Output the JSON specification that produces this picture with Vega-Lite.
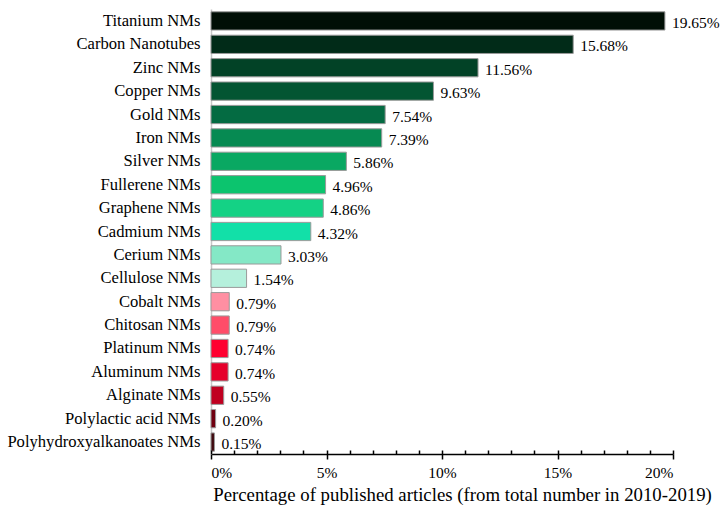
{
  "$schema": "https://vega.github.io/schema/vega-lite/v6.json",
  "autosize": "none",
  "width": 462,
  "height": 445,
  "padding": {"left": 211, "top": 9, "right": 51, "bottom": 56},
  "background": "white",
  "config": {"view": {"stroke": null}, "font": "Liberation Serif"},
  "data": {"values": [
    {"name": "Titanium NMs", "pct": 19.65, "label": "19.65%"},
    {"name": "Carbon Nanotubes", "pct": 15.68, "label": "15.68%"},
    {"name": "Zinc NMs", "pct": 11.56, "label": "11.56%"},
    {"name": "Copper NMs", "pct": 9.63, "label": "9.63%"},
    {"name": "Gold NMs", "pct": 7.54, "label": "7.54%"},
    {"name": "Iron NMs", "pct": 7.39, "label": "7.39%"},
    {"name": "Silver NMs", "pct": 5.86, "label": "5.86%"},
    {"name": "Fullerene NMs", "pct": 4.96, "label": "4.96%"},
    {"name": "Graphene NMs", "pct": 4.86, "label": "4.86%"},
    {"name": "Cadmium NMs", "pct": 4.32, "label": "4.32%"},
    {"name": "Cerium NMs", "pct": 3.03, "label": "3.03%"},
    {"name": "Cellulose NMs", "pct": 1.54, "label": "1.54%"},
    {"name": "Cobalt NMs", "pct": 0.79, "label": "0.79%"},
    {"name": "Chitosan NMs", "pct": 0.79, "label": "0.79%"},
    {"name": "Platinum NMs", "pct": 0.74, "label": "0.74%"},
    {"name": "Aluminum NMs", "pct": 0.74, "label": "0.74%"},
    {"name": "Alginate NMs", "pct": 0.55, "label": "0.55%"},
    {"name": "Polylactic acid NMs", "pct": 0.20, "label": "0.20%"},
    {"name": "Polyhydroxyalkanoates NMs", "pct": 0.15, "label": "0.15%"}
  ]},
  "encoding": {
    "y": {"field": "name", "type": "nominal", "sort": null,
      "scale": {"paddingInner": 0.22, "paddingOuter": 0.12},
      "axis": {"title": null, "ticks": false, "domainColor": "#c8c8c8", "domainWidth": 1.5,
        "labelFontSize": 16.6, "labelColor": "#000000", "labelPadding": 11, "labelLimit": 0, "labelFont": "Liberation Serif"}}
  },
  "layer": [
    {
      "mark": {"type": "bar", "stroke": "#9a9a9a", "strokeWidth": 1},
      "encoding": {
        "x": {"field": "pct", "type": "quantitative",
          "scale": {"domain": [0, 20], "nice": false},
          "axis": {"orient": "bottom", "values": [0, 5, 10, 15, 20], "labelExpr": "datum.value + '%'",
            "grid": false, "domainColor": "#000000", "domainWidth": 1.5, "tickColor": "#000000",
            "tickSize": 5, "tickWidth": 1.5, "labelFontSize": 15.5, "labelColor": "#000000",
            "labelPadding": 6, "labelFont": "Liberation Serif",
            "title": "Percentage of published articles (from total number in 2010-2019)",
            "titleFontSize": 18.8, "titleFontWeight": "normal", "titleColor": "#000000",
            "titleFont": "Liberation Serif", "titlePadding": 5, "titleX": 251}},
        "color": {"field": "name", "type": "nominal", "legend": null,
          "scale": {
            "domain": ["Titanium NMs", "Carbon Nanotubes", "Zinc NMs", "Copper NMs", "Gold NMs", "Iron NMs", "Silver NMs", "Fullerene NMs", "Graphene NMs", "Cadmium NMs", "Cerium NMs", "Cellulose NMs", "Cobalt NMs", "Chitosan NMs", "Platinum NMs", "Aluminum NMs", "Alginate NMs", "Polylactic acid NMs", "Polyhydroxyalkanoates NMs"],
            "range": ["#010f06", "#012b18", "#024226", "#035532", "#046b42", "#068a52", "#09a862", "#0cc46e", "#14d285", "#12e0a8", "#84e8c6", "#b5f0dc", "#ff8fa2", "#ff4d69", "#ff0030", "#e6002b", "#c00020", "#700010", "#400a10"]
          }}
      }
    },
    {
      "mark": {"type": "text", "align": "left", "baseline": "middle", "dx": 7, "dy": 2, "fontSize": 15.5, "font": "Liberation Serif", "color": "#000000"},
      "encoding": {
        "x": {"field": "pct", "type": "quantitative",
          "axis": {"orient": "top", "offset": -445, "zindex": 1,
            "values": [0,1,2,3,4,5,6,7,8,9,10,11,12,13,14,15,16,17,18,19,20],
            "labels": false, "domain": false, "grid": false, "title": null,
            "tickSize": 4, "tickWidth": 1.5, "tickColor": "#000000"}},
        "text": {"field": "label"}
      }
    }
  ],
  "resolve": {"axis": {"x": "independent"}}
}
